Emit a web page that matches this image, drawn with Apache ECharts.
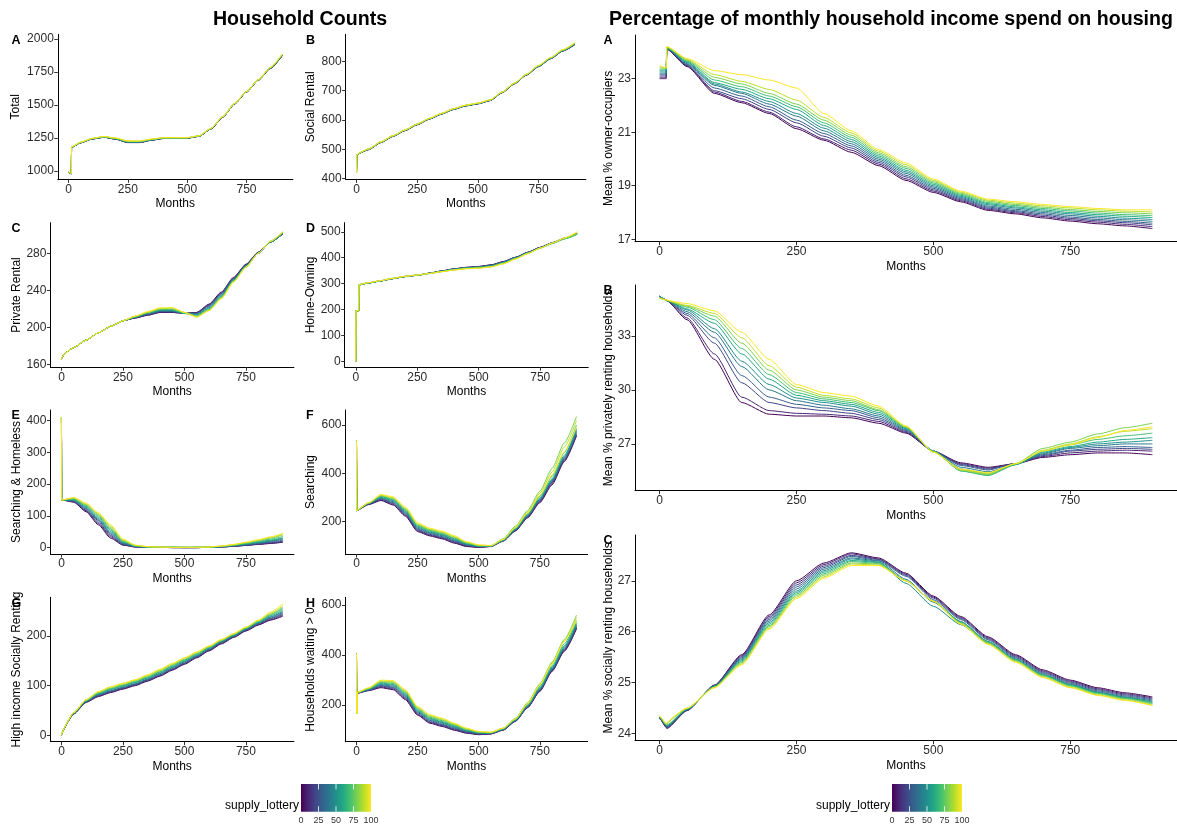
<!DOCTYPE html>
<html><head><meta charset="utf-8">
<script src="https://cdn.jsdelivr.net/npm/echarts@6/dist/echarts.min.js"></script>
<style>html,body{margin:0;padding:0;background:#fff}#chart{width:1177px;height:829px}</style>
</head><body><div id="chart"></div>
<script>
// ---------- data ----------
const months = [0, 1, 12, 13, 50, 100, 150, 200, 250, 300, 350, 400, 450, 500, 550, 600, 650, 700, 750, 800, 850, 900];
const monthsWaiting = [0, 1, 3, 4, 50, 100, 150, 200, 250, 300, 350, 400, 450, 500, 550, 600, 650, 700, 750, 800, 850, 900];
const lotteryLevels = [0, 10, 20, 30, 40, 50, 60, 70, 80, 90, 100];
const viridis = ['#440154','#482576','#414487','#35608D','#2A788E','#21908C','#22A884','#43BF71','#7AD151','#BBDF27','#FDE725'];

const totalHouseholds = [
 [988,988,978,1178,1212,1242,1255,1240,1215,1215,1233,1246,1247,1248,1262,1318,1408,1508,1598,1688,1776,1872],
 [989,989,979,1179,1213,1243,1256,1241,1216,1216,1234,1247,1248,1249,1263,1318,1408,1508,1598,1688,1777,1874],
 [989,989,979,1179,1213,1243,1256,1242,1217,1217,1235,1247,1248,1249,1263,1319,1409,1509,1599,1689,1778,1875],
 [990,990,980,1180,1214,1244,1257,1242,1218,1218,1235,1248,1249,1250,1264,1319,1409,1509,1599,1689,1778,1876],
 [990,990,980,1180,1214,1244,1257,1243,1219,1219,1236,1248,1249,1250,1264,1320,1410,1510,1600,1690,1779,1877],
 [990,990,980,1180,1215,1245,1258,1244,1220,1220,1237,1249,1250,1250,1265,1320,1410,1510,1600,1690,1780,1878],
 [991,991,981,1181,1215,1245,1258,1245,1222,1222,1238,1250,1250,1251,1265,1321,1411,1511,1601,1691,1781,1880],
 [991,991,981,1181,1216,1246,1259,1246,1223,1223,1239,1250,1251,1251,1266,1321,1411,1511,1601,1691,1782,1881],
 [992,992,982,1182,1216,1246,1260,1247,1225,1225,1240,1251,1251,1252,1266,1322,1412,1512,1602,1692,1783,1883],
 [992,992,982,1182,1217,1247,1261,1248,1226,1226,1241,1252,1252,1252,1267,1322,1412,1512,1602,1692,1784,1884],
 [993,993,983,1183,1218,1248,1262,1250,1228,1228,1242,1253,1253,1253,1267,1323,1413,1513,1603,1693,1785,1886]
];
const socialRental = [
 [420,480,486,487,499,523,544,564,584,603,620,636,648,655,666,693,723,753,782,809,835,857],
 [420,480,486,487,499,523,544,564,584,603,620,636,648,655,666,693,723,753,782,809,835,858],
 [420,480,486,487,500,524,545,565,585,604,621,637,649,656,667,694,724,754,783,810,836,858],
 [420,480,486,487,500,524,545,565,585,604,621,637,649,656,667,694,724,754,783,810,836,859],
 [420,480,486,487,500,524,545,565,585,604,621,637,649,656,667,694,724,754,783,810,836,859],
 [420,480,486,487,500,524,545,565,585,604,621,637,649,656,667,694,724,754,784,811,837,860],
 [420,481,487,488,501,525,546,566,586,605,622,638,650,657,668,695,725,755,784,811,837,861],
 [420,481,487,488,501,525,546,566,586,605,622,638,650,657,668,695,725,755,785,812,838,861],
 [420,481,487,488,501,525,546,566,586,605,622,638,650,657,668,695,725,755,785,812,838,862],
 [420,481,487,488,501,525,546,566,586,605,622,638,650,657,668,695,725,756,786,813,839,863],
 [420,482,488,489,502,526,547,567,587,606,623,639,651,658,669,696,726,756,786,813,840,864]
];
const privateRental = [
 [165,167,171,171,178,186,194,201,207,210,213,216,216,215,216,225,238,254,268,281,292,301],
 [165,167,171,171,178,186,194,201,207,210,213,216,216,215,216,224,237,253,268,281,292,301],
 [165,167,171,171,178,186,194,201,207,210,214,217,217,215,215,224,237,253,267,281,292,301],
 [165,167,171,171,178,186,194,201,207,211,214,217,217,215,215,223,236,252,267,280,292,302],
 [165,167,171,171,178,186,194,201,207,211,215,218,218,215,214,222,235,252,267,280,292,302],
 [165,167,171,171,178,186,194,201,207,211,215,218,218,215,214,221,234,251,266,280,292,302],
 [165,167,171,171,178,186,194,201,207,211,215,219,219,215,213,220,233,251,266,280,292,302],
 [165,167,171,171,178,186,194,201,207,211,216,219,219,215,212,219,232,250,265,280,293,302],
 [165,167,171,171,178,186,194,201,207,212,216,220,220,216,212,219,232,250,265,280,293,303],
 [165,167,171,171,178,186,194,201,207,212,216,220,221,216,211,218,231,249,265,280,293,303],
 [165,167,171,171,178,186,194,201,207,212,217,221,221,216,211,218,231,249,265,280,293,303]
];
const homeOwning = [
 [0,195,195,295,302,310,319,327,332,340,349,357,363,366,372,385,402,421,440,458,476,494],
 [0,195,195,295,302,310,319,327,332,340,349,357,362,366,372,384,401,421,440,458,476,494],
 [0,195,195,295,302,310,319,327,332,340,348,356,362,365,371,384,401,420,439,457,475,493],
 [0,195,195,295,302,310,319,327,332,340,348,356,361,364,370,383,400,420,439,457,475,493],
 [0,195,195,295,302,310,319,327,332,340,348,355,361,364,369,382,400,419,438,456,474,492],
 [0,195,195,295,302,310,319,327,332,339,347,355,360,363,368,381,399,419,438,456,474,491],
 [0,195,195,295,302,310,319,327,332,339,347,354,360,362,367,380,398,418,437,455,473,490],
 [0,195,195,296,303,311,320,328,333,339,347,354,359,361,366,379,397,417,437,455,473,490],
 [0,195,195,296,303,311,320,328,333,339,346,353,358,360,365,378,396,417,437,456,474,492],
 [0,195,195,296,303,311,320,328,333,339,346,353,358,360,365,377,396,416,437,456,476,496],
 [0,195,195,296,303,311,320,328,333,339,346,352,357,359,364,376,395,416,437,457,477,500]
];
const searchingHomeless = [
 [410,150,149,149,143,113,72,30,8,2,1,1,0,0,0,1,2,4,7,10,13,17],
 [410,150,149,149,144,116,76,34,9,2,1,1,0,0,0,1,2,4,7,11,14,18],
 [410,150,149,149,145,118,80,38,11,3,1,1,0,0,0,1,2,5,8,12,16,20],
 [410,150,150,150,147,121,85,42,12,3,1,1,1,0,0,1,3,5,9,13,18,23],
 [410,150,150,150,148,124,88,46,14,4,2,1,1,0,1,1,3,6,10,15,20,26],
 [410,150,150,150,150,127,92,50,16,4,2,1,1,1,1,1,3,7,11,16,22,29],
 [410,150,150,150,152,130,96,55,18,5,2,1,1,1,1,2,4,7,12,18,24,31],
 [410,150,150,150,154,133,100,59,20,6,2,1,1,1,1,2,4,8,13,20,27,35],
 [410,150,151,151,155,135,104,63,22,6,3,2,1,1,1,2,4,9,15,22,30,40],
 [410,150,151,151,156,137,107,67,24,7,3,2,1,1,1,2,5,9,16,23,32,42],
 [410,150,151,151,158,140,110,72,27,8,3,2,1,1,1,2,5,10,17,25,34,45]
];
const searching = [
 [535,245,250,250,270,287,268,222,158,140,128,110,96,92,96,118,160,215,278,352,448,555],
 [535,245,250,250,271,289,271,225,161,143,131,113,98,93,96,119,162,218,282,357,452,558],
 [535,245,250,250,272,292,275,229,165,146,134,116,100,94,97,119,163,220,285,361,456,562],
 [535,245,250,250,273,294,278,233,168,150,137,119,102,95,97,120,164,222,288,364,460,568],
 [535,245,251,251,274,297,282,237,172,153,141,122,104,96,98,120,166,224,291,368,464,573],
 [535,245,251,251,275,300,286,241,176,156,144,125,106,97,98,121,167,226,294,372,468,578],
 [535,245,251,251,276,303,289,245,180,160,147,128,108,98,98,122,169,229,298,377,474,585],
 [535,245,251,251,276,305,292,249,183,163,150,131,110,99,99,123,171,233,305,387,486,600],
 [535,245,252,252,277,307,295,252,186,166,153,134,112,100,99,128,180,245,325,420,525,635],
 [535,245,252,252,277,309,298,255,190,168,156,137,114,101,100,126,177,240,316,405,508,618],
 [535,245,252,252,278,312,302,260,195,172,160,141,116,103,100,125,174,235,308,392,490,592]
];
const highIncomeSocial = [
 [0,3,14,15,43,66,78,86,93,100,109,119,131,143,156,170,184,197,210,222,232,240],
 [0,3,14,15,43,67,79,87,94,101,110,120,132,144,157,171,185,198,211,223,233,242],
 [0,3,14,15,44,67,80,88,95,102,111,121,133,145,158,172,186,199,212,224,235,244],
 [0,3,14,15,44,68,81,89,96,103,112,122,134,146,159,173,187,200,213,225,236,246],
 [0,3,14,15,44,68,82,90,97,104,113,124,136,148,160,174,188,200,213,226,238,248],
 [0,3,14,15,45,69,83,92,99,106,115,125,137,149,161,175,189,201,214,227,239,250],
 [0,3,15,16,45,70,84,93,100,107,116,127,139,151,163,176,190,202,215,228,241,253],
 [0,3,15,16,45,70,85,94,101,108,118,128,140,152,164,177,191,203,216,229,243,256],
 [0,3,15,16,46,71,86,95,102,110,119,130,142,153,165,178,191,204,217,230,244,258],
 [0,3,15,16,46,71,87,97,104,111,120,131,143,155,167,179,192,204,217,231,246,261],
 [0,3,15,16,46,72,88,98,105,112,122,133,145,156,168,180,193,205,218,232,248,265]
];
const householdsWaiting = [
 [405,170,165,248,258,270,262,222,160,128,115,100,88,82,85,100,135,190,255,335,415,505],
 [405,170,165,248,259,273,265,226,163,131,118,102,90,83,85,101,136,191,257,337,418,508],
 [405,170,165,249,260,276,269,230,167,134,121,105,92,85,86,101,137,193,259,340,421,512],
 [405,170,165,249,261,279,272,234,170,138,124,108,94,86,87,102,138,194,261,342,424,515],
 [405,170,165,250,262,282,276,238,174,141,128,111,96,88,88,103,139,196,264,345,428,520],
 [405,170,165,250,264,285,280,242,177,145,131,114,98,89,89,104,140,198,267,348,432,525],
 [405,170,165,250,265,288,283,246,181,148,134,117,100,90,89,105,141,200,270,352,437,530],
 [405,170,165,251,266,291,287,250,184,152,138,120,102,91,90,106,143,203,275,358,445,540],
 [405,170,165,251,267,294,291,254,188,155,141,122,104,92,91,108,147,210,285,372,462,560],
 [405,170,165,252,268,297,294,258,191,159,145,125,106,94,91,108,146,207,282,368,458,550],
 [405,170,165,252,270,300,298,262,195,162,148,128,108,95,92,108,145,205,280,365,455,540]
];
const ownerPct = [
 [23.0,23.0,23.0,24.1,23.45,22.45,22.1,21.7,21.13,20.7,20.25,19.75,19.2,18.75,18.4,18.08,17.95,17.8,17.68,17.58,17.5,17.4],
 [23.05,23.05,23.05,24.1,23.48,22.5,22.15,21.75,21.2,20.75,20.33,19.81,19.26,18.8,18.44,18.12,17.99,17.85,17.73,17.64,17.56,17.47],
 [23.1,23.1,23.1,24.12,23.5,22.55,22.25,21.85,21.35,20.85,20.41,19.87,19.33,18.85,18.48,18.16,18.03,17.9,17.78,17.69,17.62,17.54],
 [23.15,23.15,23.15,24.12,23.53,22.65,22.35,21.95,21.45,20.95,20.49,19.93,19.39,18.9,18.52,18.2,18.07,17.95,17.83,17.74,17.67,17.6],
 [23.2,23.2,23.2,24.14,23.56,22.75,22.45,22.05,21.6,21.05,20.57,19.99,19.46,18.95,18.56,18.24,18.12,18.0,17.89,17.8,17.73,17.67],
 [23.25,23.25,23.25,24.14,23.6,22.8,22.5,22.15,21.7,21.15,20.65,20.05,19.52,19.0,18.6,18.29,18.17,18.05,17.95,17.86,17.79,17.74],
 [23.3,23.3,23.3,24.16,23.63,22.85,22.6,22.25,21.85,21.25,20.73,20.11,19.58,19.05,18.64,18.33,18.21,18.1,18.0,17.92,17.86,17.81],
 [23.35,23.35,23.35,24.16,23.66,22.95,22.7,22.35,21.95,21.35,20.81,20.17,19.65,19.1,18.68,18.37,18.26,18.15,18.06,17.98,17.92,17.88],
 [23.4,23.4,23.38,24.18,23.69,23.05,22.8,22.45,22.05,21.45,20.89,20.23,19.71,19.15,18.72,18.42,18.3,18.2,18.11,18.04,17.99,17.95],
 [23.45,23.45,23.4,24.18,23.72,23.15,22.9,22.6,22.2,21.55,20.97,20.29,19.78,19.2,18.76,18.46,18.35,18.25,18.17,18.1,18.05,18.02],
 [23.5,23.5,23.4,24.2,23.75,23.3,23.15,22.95,22.65,21.7,21.05,20.35,19.85,19.25,18.8,18.5,18.4,18.3,18.22,18.15,18.1,18.1]
];
const privatePct = [
 [35.2,35.2,35.0,34.95,33.9,31.7,29.3,28.65,28.55,28.55,28.45,28.15,27.6,26.6,25.95,25.7,25.9,26.25,26.4,26.5,26.5,26.4],
 [35.2,35.2,35.0,34.95,34.0,32.0,29.6,28.85,28.7,28.65,28.55,28.25,27.65,26.6,25.9,25.65,25.9,26.3,26.5,26.6,26.65,26.6],
 [35.2,35.2,35.0,34.95,34.15,32.6,30.4,29.3,29.0,28.85,28.7,28.35,27.7,26.6,25.85,25.6,25.9,26.35,26.6,26.7,26.75,26.7],
 [35.2,35.2,35.0,34.95,34.25,32.9,30.8,29.6,29.2,29.0,28.85,28.45,27.75,26.6,25.8,25.55,25.9,26.4,26.65,26.8,26.85,26.8],
 [35.2,35.2,35.0,34.96,34.35,33.2,31.3,30.0,29.4,29.15,28.95,28.55,27.8,26.6,25.7,25.45,25.85,26.45,26.75,26.9,27.0,27.0],
 [35.2,35.2,35.0,34.96,34.45,33.4,31.6,30.3,29.55,29.3,29.1,28.65,27.85,26.6,25.6,25.35,25.85,26.5,26.8,27.0,27.1,27.2],
 [35.15,35.15,35.0,34.97,34.5,33.7,32.0,30.6,29.7,29.4,29.2,28.75,27.9,26.6,25.5,25.25,25.85,26.55,26.85,27.1,27.25,27.35],
 [35.15,35.15,35.0,34.97,34.6,33.9,32.3,30.85,29.85,29.5,29.3,28.85,27.9,26.6,25.5,25.25,25.85,26.6,26.95,27.25,27.45,27.6],
 [35.1,35.1,35.0,34.98,34.65,34.1,32.6,31.1,30.0,29.6,29.4,28.9,27.95,26.55,25.55,25.3,25.9,26.75,27.1,27.55,27.9,28.15],
 [35.1,35.1,35.0,34.99,34.7,34.25,32.9,31.35,30.15,29.7,29.5,29.0,27.95,26.55,25.55,25.35,25.9,26.65,27.0,27.4,27.7,27.85],
 [35.1,35.1,35.0,35.0,34.8,34.4,33.2,31.7,30.3,29.85,29.65,29.1,28.0,26.55,25.6,25.4,25.9,26.6,26.95,27.35,27.75,27.95]
];
const socialPct = [
 [24.3,24.28,24.12,24.1,24.45,24.95,25.55,26.33,27.0,27.35,27.55,27.45,27.15,26.7,26.3,25.9,25.55,25.25,25.05,24.9,24.8,24.72],
 [24.3,24.28,24.13,24.11,24.46,24.95,25.53,26.3,26.96,27.32,27.53,27.43,27.13,26.68,26.28,25.88,25.53,25.23,25.03,24.88,24.78,24.7],
 [24.31,24.29,24.14,24.12,24.46,24.94,25.51,26.27,26.92,27.29,27.5,27.42,27.11,26.66,26.26,25.86,25.51,25.21,25.01,24.86,24.76,24.68],
 [24.31,24.29,24.15,24.13,24.47,24.94,25.49,26.24,26.88,27.26,27.48,27.4,27.09,26.63,26.24,25.84,25.49,25.19,24.99,24.84,24.74,24.66],
 [24.32,24.3,24.16,24.14,24.47,24.93,25.47,26.21,26.84,27.23,27.45,27.39,27.03,26.58,26.2,25.81,25.47,25.17,24.97,24.82,24.72,24.64],
 [24.32,24.3,24.16,24.15,24.48,24.93,25.45,26.18,26.8,27.2,27.43,27.37,26.95,26.5,26.14,25.78,25.45,25.15,24.96,24.81,24.71,24.62],
 [24.33,24.31,24.17,24.16,24.48,24.92,25.43,26.15,26.77,27.17,27.4,27.36,27.0,26.6,26.2,25.8,25.45,25.15,24.95,24.8,24.7,24.61],
 [24.33,24.31,24.18,24.17,24.49,24.92,25.41,26.12,26.74,27.14,27.38,27.34,27.0,26.6,26.18,25.79,25.44,25.14,24.94,24.79,24.69,24.59],
 [24.34,24.32,24.18,24.18,24.49,24.91,25.39,26.1,26.71,27.11,27.35,27.33,27.0,26.6,26.17,25.78,25.43,25.13,24.93,24.78,24.68,24.58],
 [24.34,24.32,24.19,24.19,24.5,24.91,25.37,26.07,26.68,27.08,27.33,27.31,27.0,26.6,26.16,25.76,25.41,25.11,24.91,24.76,24.66,24.56],
 [24.35,24.33,24.2,24.2,24.5,24.9,25.35,26.05,26.65,27.05,27.3,27.3,27.0,26.6,26.15,25.75,25.4,25.1,24.9,24.75,24.65,24.55]
];

// tick labels
const xTicks = [0, 250, 500, 750];
const yTicksTotal = [1000, 1250, 1500, 1750, 2000];
const yTicksSocial = [400, 500, 600, 700, 800];
const yTicksPrivate = [160, 200, 240, 280];
const yTicksHome = [0, 100, 200, 300, 400, 500];
const yTicksSearchHomeless = [0, 100, 200, 300, 400];
const yTicksSearching = [200, 400, 600];
const yTicksHighIncome = [0, 100, 200];
const yTicksWaiting = [200, 400, 600];
const yTicksOwnerPct = [17, 19, 21, 23];
const yTicksPrivatePct = [27, 30, 33];
const yTicksSocialPct = [24, 25, 26, 27];
const legendTicks = [0, 25, 50, 75, 100];

// ---------- layout ----------
const FONT = '"Liberation Sans", Arial, sans-serif';
const panels = [
 {letter:'A', name:'Total', data: totalHouseholds, ticks: yTicksTotal, yr:[937, 2036], box:[57.8, 34.3, 235, 145], tx:16, lx:11.5},
 {letter:'B', name:'Social Rental', data: socialRental, ticks: yTicksSocial, yr:[398, 892], box:[345.6, 34.3, 240.3, 145], tx:311, lx:306},
 {letter:'C', name:'Private Rental', data: privateRental, ticks: yTicksPrivate, yr:[156.8, 313], box:[50.4, 222.7, 243.5, 144.5], tx:17, lx:11.5},
 {letter:'D', name:'Home-Owning', data: homeOwning, ticks: yTicksHome, yr:[-23, 535], box:[344.7, 222.7, 243.5, 144.5], tx:311, lx:306},
 {letter:'E', name:'Searching & Homeless', data: searchingHomeless, ticks: yTicksSearchHomeless, yr:[-20, 433], box:[50.4, 410, 243.5, 144], tx:17, lx:11.5},
 {letter:'F', name:'Searching', data: searching, ticks: yTicksSearching, yr:[65, 662], box:[345.5, 410, 242, 144], tx:311, lx:306},
 {letter:'G', name:'High income Socially Renting', data: highIncomeSocial, ticks: yTicksHighIncome, yr:[-13, 278], box:[50.4, 597.3, 243.5, 144.4], tx:17, lx:11.5},
 {letter:'H', name:'Households waiting > 0', data: householdsWaiting, x: monthsWaiting, ticks: yTicksWaiting, yr:[54, 631], box:[345.5, 597.3, 242, 144.4], tx:311, lx:306},
 {letter:'A', name:'Mean % owner-occupiers', data: ownerPct, ticks: yTicksOwnerPct, yr:[16.91, 24.63], box:[635, 35, 542, 206.7], tx:609, lx:603.5},
 {letter:'B', name:'Mean % privately renting households', data: privatePct, ticks: yTicksPrivatePct, yr:[24.4, 35.83], box:[635, 285, 542, 205.7], tx:609, lx:603.5},
 {letter:'C', name:'Mean % socially renting households', data: socialPct, ticks: yTicksSocialPct, yr:[23.86, 27.9], box:[635, 535, 542, 205.7], tx:609, lx:603.5}
];

const grid = [], xAxis = [], yAxis = [], series = [], graphic = [];
function txt(x, y, text, font, align, vAlign, rot, fill) {
  return {type:'text', x:x, y:y, rotation: rot || 0, silent:true,
    style:{text:text, font:font, fill: fill || '#000', align:align, textAlign:align, verticalAlign:vAlign, textVerticalAlign:vAlign}};
}
panels.forEach((p, i) => {
  const [l, t, w, h] = p.box;
  const xs = p.x || months;
  grid.push({left:l, top:t, width:w, height:h, containLabel:false, outerBoundsMode:'none'});
  xAxis.push({type:'value', gridIndex:i, min:-45, max:945,
    axisLine:{show:true, onZero:false, lineStyle:{color:'#000', width:1}},
    axisTick:{show:true, customValues:xTicks, length:3.5, lineStyle:{color:'#333', width:1}},
    axisLabel:{customValues:xTicks, margin:4, fontSize:12, fontFamily:FONT, color:'#2b2b2b', formatter:v=>String(v)},
    splitLine:{show:false}});
  yAxis.push({type:'value', gridIndex:i, min:p.yr[0], max:p.yr[1],
    axisLine:{show:true, onZero:false, lineStyle:{color:'#000', width:1}},
    axisTick:{show:true, customValues:p.ticks, length:3.5, lineStyle:{color:'#333', width:1}},
    axisLabel:{customValues:p.ticks, margin:4, fontSize:12, fontFamily:FONT, color:'#2b2b2b', formatter:v=>String(v)},
    splitLine:{show:false}});
  p.data.forEach((row, li) => {
    series.push({type:'line', name:'supply_lottery ' + lotteryLevels[li], xAxisIndex:i, yAxisIndex:i,
      data: xs.map((m, j) => [m, row[j]]), showSymbol:false, symbol:'none', silent:true,
      smooth:0.2, smoothMonotone:'x', clip:true,
      lineStyle:{width:1, color:viridis[li]}, itemStyle:{color:viridis[li]}});
  });
  graphic.push(txt(l + w / 2, t + h + 24.5, 'Months', '12px ' + FONT, 'center', 'middle'));
  graphic.push(txt(p.tx, t + h / 2, p.name, '12px ' + FONT, 'center', 'middle', Math.PI / 2));
  graphic.push(txt(p.lx, t + 6, p.letter, 'bold 12.5px ' + FONT, 'left', 'middle'));
});

graphic.push(txt(300, 20, 'Household Counts', 'bold 19.6px ' + FONT, 'center', 'middle'));
graphic.push(txt(891, 20, 'Percentage of monthly household income spend on housing', 'bold 19.6px ' + FONT, 'center', 'middle'));

function colorbar(x0) {
  const y0 = 784, bw = 70, bh = 27.7;
  const stops = viridis.map((c, k) => ({offset: k / (viridis.length - 1), color: c}));
  graphic.push({type:'rect', silent:true, shape:{x:x0, y:y0, width:bw, height:bh},
    style:{fill:new echarts.graphic.LinearGradient(0, 0, 1, 0, stops)}});
  legendTicks.forEach(v => {
    const x = x0 + bw * v / 100;
    if (v > 0 && v < 100) {
      graphic.push({type:'line', silent:true, shape:{x1:x, y1:y0, x2:x, y2:y0 + 5.5}, style:{stroke:'#fff', lineWidth:0.8}});
      graphic.push({type:'line', silent:true, shape:{x1:x, y1:y0 + bh - 5.5, x2:x, y2:y0 + bh}, style:{stroke:'#fff', lineWidth:0.8}});
    }
    graphic.push(txt(x, 821, String(v), '9px ' + FONT, 'center', 'middle', 0, '#333'));
  });
  graphic.push(txt(x0 - 2, 806, 'supply_lottery', '12px ' + FONT, 'right', 'middle'));
}
colorbar(301);
colorbar(892);

const chart = echarts.init(document.getElementById('chart'), null, {renderer:'canvas'});
chart.setOption({animation:false, backgroundColor:'#fff', grid, xAxis, yAxis, series, graphic});
</script></body></html>
